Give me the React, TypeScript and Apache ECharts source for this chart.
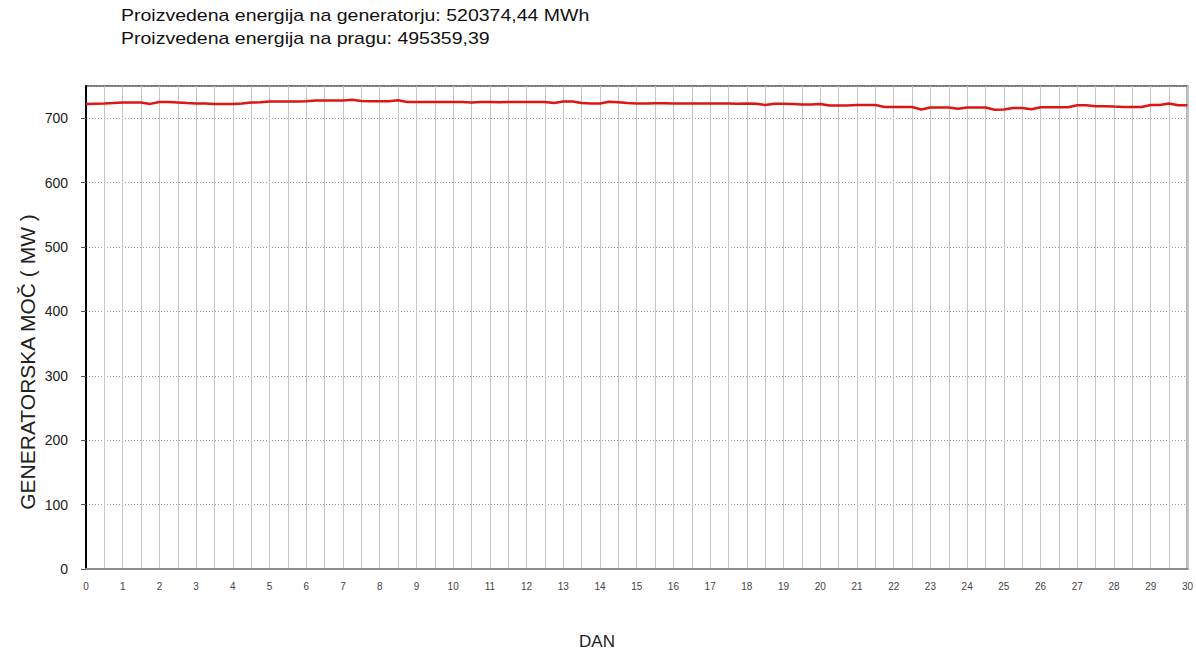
import React, { useEffect, useRef } from "react";
import * as echarts from "echarts";

const TITLE_LINES = [
  "Proizvedena energija na generatorju: 520374,44 MWh",
  "Proizvedena energija na pragu: 495359,39",
];
const X_NAME = "DAN";
const Y_NAME = "GENERATORSKA MOČ ( MW )";
const STEP_DAYS = 0.25;
// generator power (MW), one reading every 6 hours from day 0 to day 30
const POWER = [
  722.2, 722.5, 722.8, 723.5, 724.3, 724.3, 724.3, 722.2, 725.3, 725.3,
  724.5, 723.5, 722.8, 722.8, 722.2, 722.2, 722.2, 723.0, 724.3, 724.8,
  725.9, 725.9, 725.9, 725.9, 726.5, 727.4, 727.4, 727.4, 727.4, 728.6,
  726.8, 726.3, 726.3, 726.3, 727.9, 725.3, 725.3, 725.3, 725.3, 725.3,
  725.3, 725.3, 724.5, 725.3, 725.3, 724.8, 725.3, 725.3, 725.3, 725.3,
  725.3, 723.7, 725.9, 725.9, 723.5, 722.8, 722.8, 725.5, 724.8, 723.5,
  722.8, 722.8, 723.3, 723.3, 722.8, 722.8, 722.8, 722.8, 722.8, 722.8,
  722.8, 722.5, 722.8, 722.5, 720.6, 722.5, 722.5, 722.0, 721.2, 721.2,
  722.2, 719.7, 719.7, 719.7, 720.6, 720.6, 720.6, 717.5, 717.5, 717.5,
  717.5, 713.5, 716.5, 716.5, 716.5, 714.5, 716.5, 716.5, 716.5, 713.0,
  713.5, 716.0, 716.0, 714.0, 717.0, 717.0, 717.0, 717.0, 720.0, 720.0,
  718.6, 718.6, 718.0, 717.5, 717.5, 717.5, 720.6, 720.6, 722.8, 720.1,
  720.1,
];
const Y_MIN = 0;
const Y_MAX = 750;
const Y_STEP = 100;
const X_MIN = 0;
const X_MAX = 30;

export default function App() {
  const ref = useRef<HTMLDivElement>(null);
  useEffect(() => {
    if (!ref.current) return;
    const chart = echarts.init(ref.current, null, { renderer: "svg" });
    const data = POWER.map((v, i) => [i * STEP_DAYS, v]);
    chart.setOption({
      animation: false,
      backgroundColor: "#ffffff",
      grid: {
        left: 86,
        top: 86,
        right: 1,
        bottom: 83,
        show: true,
        borderColor: "#7a7a7a",
        borderWidth: 2,
      },
      xAxis: {
        type: "value",
        min: X_MIN,
        max: X_MAX,
        interval: 1,
        axisLine: { show: true, lineStyle: { color: "#8c8c8c", width: 2 } },
        axisTick: { show: false },
        axisLabel: {
          color: "#444",
          fontSize: 10,
          fontFamily: "Liberation Sans, Arial, sans-serif",
          margin: 12,
        },
        splitLine: { show: true, lineStyle: { color: "#c4c4c4", width: 1, type: "solid" } },
        minorTick: { show: false, splitNumber: 2 },
        minorSplitLine: { show: true, lineStyle: { color: "#c4c4c4", width: 1, type: "solid" } },
      },
      yAxis: {
        type: "value",
        min: Y_MIN,
        max: Y_MAX,
        interval: Y_STEP,
        axisLine: { show: true, lineStyle: { color: "#000", width: 2 } },
        axisTick: { show: true, length: 5, lineStyle: { color: "#555", width: 1 } },
        axisLabel: {
          color: "#222",
          fontSize: 14,
          fontFamily: "Liberation Sans, Arial, sans-serif",
          margin: 18,
          showMaxLabel: false,
          formatter: (v: number) => (v % Y_STEP === 0 ? String(v) : ""),
        },
        splitLine: { show: true, lineStyle: { color: "#9a9a9a", width: 1, type: [1, 2] } },
      },
      graphic: [
        {
          type: "text",
          left: 121,
          top: 8,
          scaleX: 1.22,
          style: {
            text: TITLE_LINES[0],
            fontSize: 16,
            fontFamily: "Liberation Sans, Arial, sans-serif",
            fill: "#111",
          },
        },
        {
          type: "text",
          left: 121,
          top: 31,
          scaleX: 1.22,
          style: {
            text: TITLE_LINES[1],
            fontSize: 16,
            fontFamily: "Liberation Sans, Arial, sans-serif",
            fill: "#111",
          },
        },
        {
          type: "text",
          x: 27,
          y: 362,
          rotation: Math.PI / 2,
          style: {
            text: Y_NAME,
            fontSize: 21,
            fontFamily: "Liberation Sans, Arial, sans-serif",
            fill: "#222",
            align: "center",
            verticalAlign: "middle",
          },
        },
        {
          type: "text",
          x: 597,
          y: 641,
          style: {
            text: X_NAME,
            fontSize: 17,
            fontFamily: "Liberation Sans, Arial, sans-serif",
            fill: "#222",
            align: "center",
            verticalAlign: "middle",
          },
        },
      ],
      series: [
        {
          type: "line",
          data,
          showSymbol: false,
          symbol: "none",
          lineStyle: { color: "#dd1515", width: 2.5 },
          z: 5,
        },
      ],
    });
    return () => chart.dispose();
  }, []);
  return (
    <div
      ref={ref}
      style={{ position: "fixed", left: 0, top: 0, width: 1196, height: 652 }}
    />
  );
}
